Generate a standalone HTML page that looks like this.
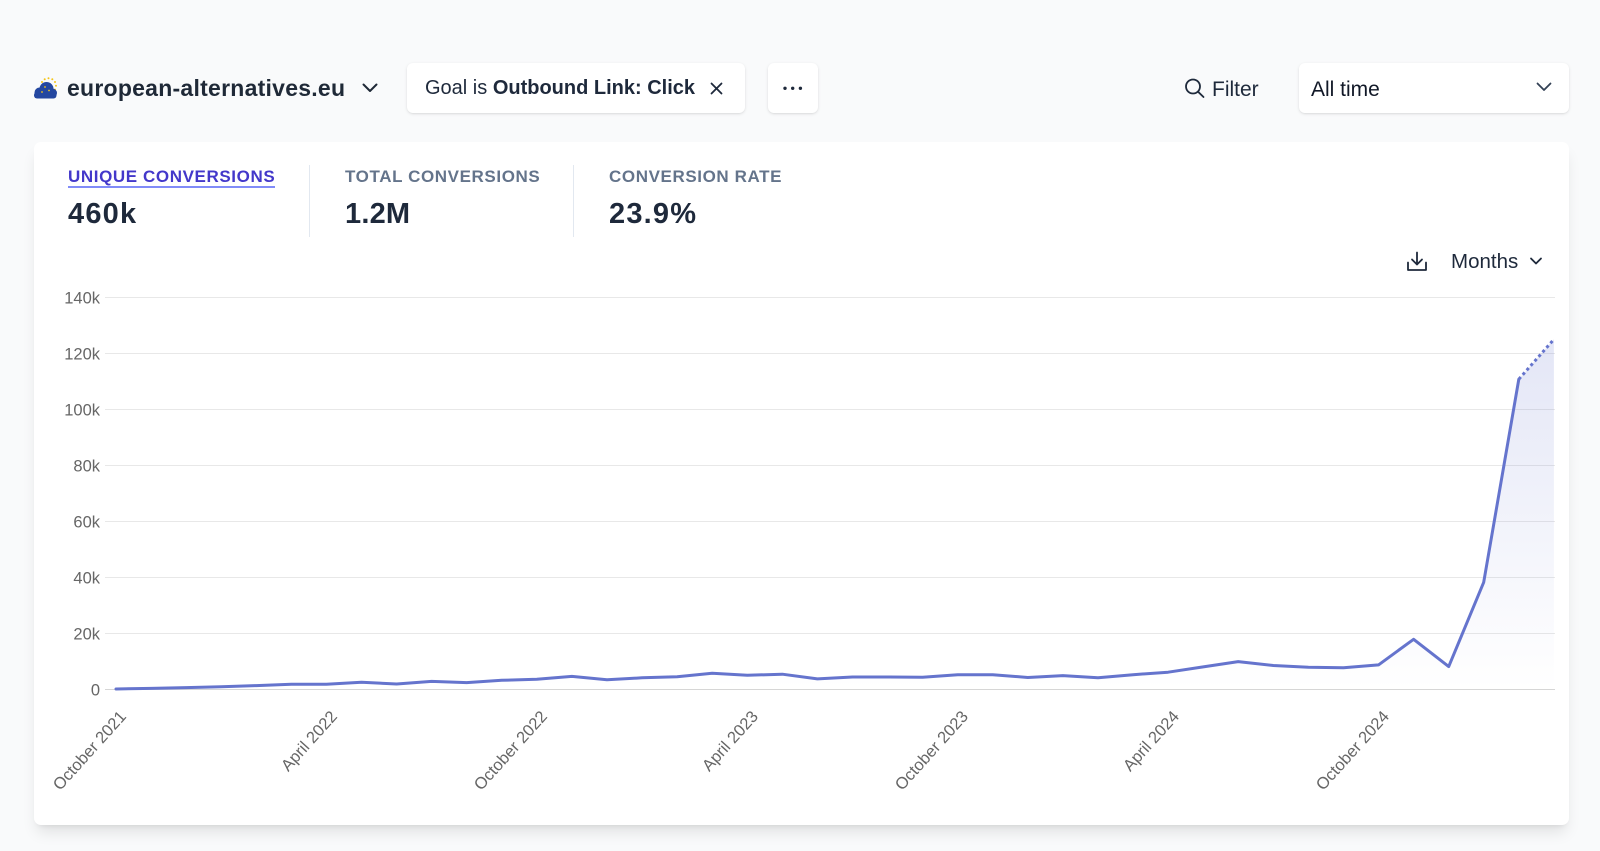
<!DOCTYPE html>
<html>
<head>
<meta charset="utf-8">
<style>
  html,body{margin:0;padding:0;}
  body{width:1600px;height:851px;background:#f9fafb;overflow:hidden;position:relative;font-family:"Liberation Sans",Arial,sans-serif;color:#1e293b;}
  .abs{position:absolute;white-space:nowrap;}
  .box{position:absolute;background:#fff;border-radius:6px;box-shadow:0 1px 3px rgba(0,0,0,0.10),0 1px 2px -1px rgba(0,0,0,0.10);}
  .card{position:absolute;left:34px;top:142px;width:1535px;height:683px;background:#fff;border-radius:7px;box-shadow:0 10px 15px -3px rgba(0,0,0,0.10),0 4px 6px -4px rgba(0,0,0,0.10);}
  .lbl{font-size:17px;font-weight:bold;letter-spacing:0.6px;line-height:17px;color:#64748b;}
  .val{font-size:29px;font-weight:bold;line-height:29px;color:#1e293b;letter-spacing:1.2px;}
</style>
</head>
<body>

<!-- top bar -->
<div class="abs" style="left:67px;top:77px;font-size:23px;line-height:23px;font-weight:bold;color:#1f2937;letter-spacing:0.25px;">european-alternatives.eu</div>

<div class="box" style="left:407px;top:63px;width:338px;height:50px;"></div>
<div class="abs" style="left:425px;top:78px;font-size:20px;line-height:20px;color:#1e293b;">Goal is <b>Outbound Link: Click</b></div>

<div class="box" style="left:768px;top:63px;width:50px;height:50px;"></div>

<div class="abs" style="left:1212px;top:79px;font-size:21px;line-height:21px;color:#1e293b;">Filter</div>

<div class="box" style="left:1299px;top:63px;width:270px;height:50px;"></div>
<div class="abs" style="left:1311px;top:79px;font-size:21px;line-height:21px;color:#111827;">All time</div>

<!-- card -->
<div class="card"></div>
<div class="abs lbl" style="left:68px;top:168px;color:#4338ca;">UNIQUE CONVERSIONS</div>
<div class="abs" style="left:68px;top:186px;width:207px;height:2px;background:#818cf8;"></div>
<div class="abs lbl" style="left:345px;top:168px;">TOTAL CONVERSIONS</div>
<div class="abs lbl" style="left:609px;top:168px;">CONVERSION RATE</div>
<div class="abs" style="left:309px;top:165px;width:1px;height:72px;background:#e2e8f0;"></div>
<div class="abs" style="left:573px;top:165px;width:1px;height:72px;background:#e2e8f0;"></div>
<div class="abs val" style="left:68px;top:200px;">460k</div>
<div class="abs val" style="left:345px;top:200px;letter-spacing:0.2px;">1.2M</div>
<div class="abs val" style="left:609px;top:200px;">23.9%</div>

<div class="abs" style="left:1451px;top:252px;font-size:20.5px;line-height:20.5px;color:#1e293b;">Months</div>

<svg class="abs" style="left:0;top:0;" width="1600" height="851" viewBox="0 0 1600 851" xmlns="http://www.w3.org/2000/svg">
  <defs>
    <linearGradient id="fillg" gradientUnits="userSpaceOnUse" x1="0" y1="297" x2="0" y2="689">
      <stop offset="0" stop-color="rgb(101,116,205)" stop-opacity="0.2"/>
      <stop offset="1" stop-color="rgb(101,116,205)" stop-opacity="0"/>
    </linearGradient>
  </defs>

  <!-- logo -->
  <g>
    <g fill="#f5c518">
      <circle cx="48.5" cy="78.3" r="1"/>
      <circle cx="52.3" cy="79.3" r="1"/>
      <circle cx="55" cy="82" r="1"/>
      <circle cx="56" cy="85.8" r="1"/>
      <circle cx="55" cy="89.6" r="1"/>
      <circle cx="44.7" cy="79.3" r="1"/>
      <circle cx="42" cy="82" r="1"/>
    </g>
    <g fill="#2447a0">
      <circle cx="39.5" cy="92.5" r="5"/>
      <circle cx="46.5" cy="89" r="7"/>
      <circle cx="52.5" cy="93" r="4.5"/>
      <rect x="34" y="92" width="22.5" height="6.5" rx="3"/>
    </g>
    <g fill="#f5c518">
      <circle cx="45" cy="87" r="0.9"/>
      <circle cx="49" cy="90.5" r="0.9"/>
      <circle cx="42" cy="92" r="0.9"/>
    </g>
  </g>

  <!-- site chevron -->
  <polyline points="363.5,84.5 370,91 376.5,84.5" fill="none" stroke="#1f2937" stroke-width="2" stroke-linecap="round" stroke-linejoin="round"/>
  <!-- goal X -->
  <g stroke="#1e293b" stroke-width="1.8" stroke-linecap="round">
    <line x1="711.5" y1="83.5" x2="721.5" y2="93.5"/>
    <line x1="721.5" y1="83.5" x2="711.5" y2="93.5"/>
  </g>
  <!-- dots -->
  <g fill="#1e293b">
    <circle cx="785" cy="88.3" r="1.7"/>
    <circle cx="792.7" cy="88.3" r="1.7"/>
    <circle cx="800.4" cy="88.3" r="1.7"/>
  </g>
  <!-- filter icon -->
  <g fill="none" stroke="#1e293b" stroke-width="1.8" stroke-linecap="round">
    <circle cx="1193" cy="86.5" r="7"/>
    <line x1="1198" y1="91.7" x2="1203.5" y2="97"/>
  </g>
  <!-- all time chevron -->
  <polyline points="1537.5,83.5 1544,90 1550.5,83.5" fill="none" stroke="#334155" stroke-width="1.8" stroke-linecap="round" stroke-linejoin="round"/>
  <!-- download icon -->
  <g fill="none" stroke="#1e293b" stroke-width="1.8" stroke-linecap="round" stroke-linejoin="round">
    <line x1="1417" y1="252.5" x2="1417" y2="264"/>
    <polyline points="1412,259.5 1417,264.5 1422,259.5"/>
    <polyline points="1408,262.5 1408,270 1426,270 1426,262.5"/>
  </g>
  <!-- months chevron -->
  <polyline points="1531,258.5 1536,263.5 1541,258.5" fill="none" stroke="#1e293b" stroke-width="1.8" stroke-linecap="round" stroke-linejoin="round"/>

  <!-- gridlines -->
  <g stroke="#e8e8e8" stroke-width="1">
    <line x1="105" y1="297.5" x2="1555" y2="297.5"/>
    <line x1="105" y1="353.5" x2="1555" y2="353.5"/>
    <line x1="105" y1="409.5" x2="1555" y2="409.5"/>
    <line x1="105" y1="465.5" x2="1555" y2="465.5"/>
    <line x1="105" y1="521.5" x2="1555" y2="521.5"/>
    <line x1="105" y1="577.5" x2="1555" y2="577.5"/>
    <line x1="105" y1="633.5" x2="1555" y2="633.5"/>
  </g>
  <line x1="105" y1="689.5" x2="1555" y2="689.5" stroke="#d6d6d6" stroke-width="1"/>

  <!-- y labels -->
  <g font-family="Liberation Sans, Arial, sans-serif" font-size="16.5" fill="#666" text-anchor="end">
    <text x="100" y="303.5">140k</text>
    <text x="100" y="359.5">120k</text>
    <text x="100" y="415.5">100k</text>
    <text x="100" y="471.5">80k</text>
    <text x="100" y="527.5">60k</text>
    <text x="100" y="583.5">40k</text>
    <text x="100" y="639.5">20k</text>
    <text x="100" y="695.5">0</text>
  </g>

  <!-- x labels -->
  <g font-family="Liberation Sans, Arial, sans-serif" font-size="16.5" fill="#666" text-anchor="end">
    <text transform="translate(127,717) rotate(-48)">October 2021</text>
    <text transform="translate(338,717) rotate(-48)">April 2022</text>
    <text transform="translate(548,717) rotate(-48)">October 2022</text>
    <text transform="translate(759,717) rotate(-48)">April 2023</text>
    <text transform="translate(969,717) rotate(-48)">October 2023</text>
    <text transform="translate(1180,717) rotate(-48)">April 2024</text>
    <text transform="translate(1390,717) rotate(-48)">October 2024</text>
  </g>

  <!-- area -->
  <polygon fill="url(#fillg)" points="116.0,689 151.1,688.4 186.1,687.6 221.2,686.8 256.3,685.6 291.4,684.2 326.4,684.2 361.5,682.3 396.6,684.0 431.6,681.4 466.7,682.6 501.8,680.3 536.8,679.2 571.9,676.4 607.0,679.8 642.1,677.8 677.1,676.7 712.2,673.3 747.3,675.3 782.3,674.2 817.4,678.9 852.5,677.0 887.5,677.0 922.6,677.2 957.7,674.7 992.8,674.7 1027.8,677.5 1062.9,675.6 1098.0,677.8 1133.0,674.7 1168.1,672.2 1203.2,666.9 1238.2,661.6 1273.3,665.5 1308.4,667.2 1343.5,667.7 1378.5,664.9 1413.6,639.3 1448.7,666.6 1483.7,582.3 1518.8,379.3 1553.9,339.3 1553.9,689"/>

  <!-- line -->
  <polyline fill="none" stroke="rgb(101,116,205)" stroke-width="3" stroke-linejoin="round" stroke-linecap="round" points="116.0,689 151.1,688.4 186.1,687.6 221.2,686.8 256.3,685.6 291.4,684.2 326.4,684.2 361.5,682.3 396.6,684.0 431.6,681.4 466.7,682.6 501.8,680.3 536.8,679.2 571.9,676.4 607.0,679.8 642.1,677.8 677.1,676.7 712.2,673.3 747.3,675.3 782.3,674.2 817.4,678.9 852.5,677.0 887.5,677.0 922.6,677.2 957.7,674.7 992.8,674.7 1027.8,677.5 1062.9,675.6 1098.0,677.8 1133.0,674.7 1168.1,672.2 1203.2,666.9 1238.2,661.6 1273.3,665.5 1308.4,667.2 1343.5,667.7 1378.5,664.9 1413.6,639.3 1448.7,666.6 1483.7,582.3 1518.8,379.3"/>
  <line x1="1518.8" y1="379.3" x2="1553.9" y2="339.3" stroke="rgb(101,116,205)" stroke-width="3" stroke-dasharray="3 3"/>
</svg>

</body>
</html>
